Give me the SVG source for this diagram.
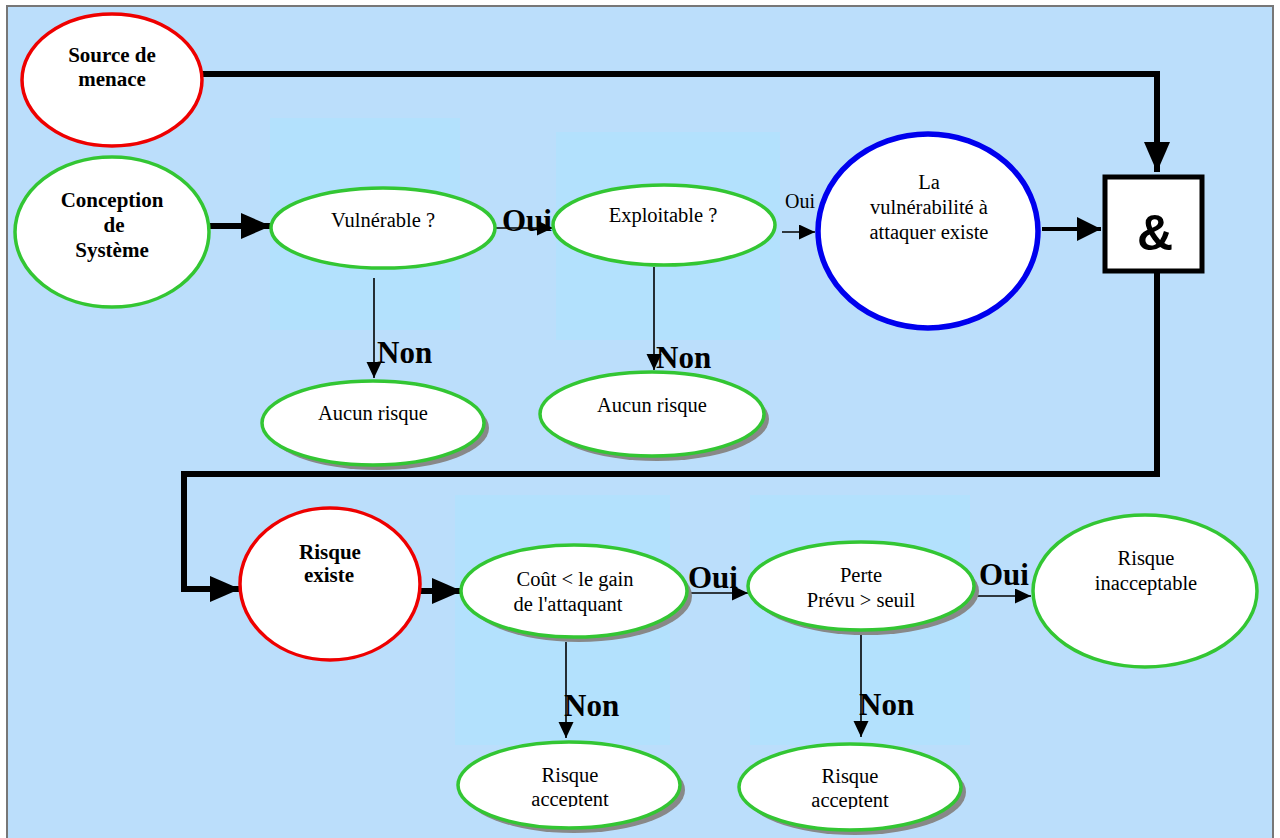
<svg xmlns="http://www.w3.org/2000/svg" width="1280" height="838" viewBox="0 0 1280 838">
<style>
.bg{fill:#bbdefb;stroke:#777;stroke-width:2}
.patch{fill:#b3e1fd}
.node{fill:#fff;stroke-width:3.5}
.g{stroke:#33c633}
.r{stroke:#ee0000}
.b{stroke:#0000ee;stroke-width:5.5}
.sh{fill:#888}
.t{font-family:"Liberation Serif","Times New Roman",serif;font-size:20.5px;fill:#000;text-anchor:middle}
.tb{font-family:"Liberation Serif","Times New Roman",serif;font-size:21px;font-weight:bold;fill:#000;text-anchor:middle}
.lbl{font-family:"Liberation Serif","Times New Roman",serif;font-size:31px;font-weight:bold;fill:#000}
.lbls{font-family:"Liberation Serif","Times New Roman",serif;font-size:20px;fill:#000}
.thick{fill:none;stroke:#000;stroke-width:6}
.thin{fill:none;stroke:#000;stroke-width:1.6}
</style>
<defs>
<marker id="big" markerUnits="userSpaceOnUse" markerWidth="32" markerHeight="28" refX="30" refY="13" orient="auto"><path d="M0,0 L30,13 L0,26 z" fill="#000"/></marker>
<marker id="med" markerUnits="userSpaceOnUse" markerWidth="26" markerHeight="26" refX="24" refY="12" orient="auto"><path d="M0,0 L24,12 L0,24 z" fill="#000"/></marker>
<marker id="sm" markerUnits="userSpaceOnUse" markerWidth="18" markerHeight="18" refX="16" refY="7.5" orient="auto"><path d="M0,0 L16,7.5 L0,15 z" fill="#000"/></marker>
<clipPath id="clip1"><rect x="440" y="740" width="260" height="67"/></clipPath>
<clipPath id="clip2"><rect x="720" y="740" width="260" height="69"/></clipPath>
</defs>
<rect class="bg" x="7" y="6" width="1266" height="840"/>
<g id="patches">
<rect class="patch" x="270" y="118" width="190" height="212"/>
<rect class="patch" x="556" y="132" width="224" height="208"/>
<rect class="patch" x="455" y="495" width="215" height="250"/>
<rect class="patch" x="750" y="495" width="220" height="250"/>
</g>
<g id="connectors">
<path class="thick" d="M202,74 H1157 V172" marker-end="url(#big)"/>
<path class="thick" d="M210,226 H271" marker-end="url(#big)"/>
<path class="thin" d="M495,228 H553" marker-end="url(#sm)"/>
<path class="thin" d="M782,232 H815" marker-end="url(#sm)"/>
<path class="thick" style="stroke-width:4" d="M1042,229 H1101" marker-end="url(#med)"/>
<path class="thick" d="M1157,273 V474 H184 V589 H240" marker-end="url(#big)"/>
<path class="thick" d="M420,591 H462" marker-end="url(#big)"/>
<path class="thin" d="M689,593 H748" marker-end="url(#sm)"/>
<path class="thin" d="M977,596 H1031" marker-end="url(#sm)"/>
<path class="thin" d="M374,278 V378" marker-end="url(#sm)"/>
<path class="thin" d="M654,267 V370" marker-end="url(#sm)"/>
<path class="thin" d="M566,642 V738" marker-end="url(#sm)"/>
<path class="thin" d="M861,633 V737" marker-end="url(#sm)"/>
<text class="lbl" x="502" y="231">Oui</text>
<text class="lbls" x="785" y="208">Oui</text>
<text class="lbl" x="377" y="363">Non</text>
<text class="lbl" x="656" y="368">Non</text>
<text class="lbl" x="688" y="588">Oui</text>
<text class="lbl" x="979" y="585">Oui</text>
<text class="lbl" x="564" y="716">Non</text>
<text class="lbl" x="859" y="715">Non</text>
</g>
<g id="source">
<ellipse class="node r" cx="112" cy="80" rx="90" ry="66"/>
<text class="tb" x="112" y="62">Source de</text>
<text class="tb" x="112" y="86">menace</text>
</g>
<g id="conception">
<ellipse class="node g" cx="112" cy="232" rx="97" ry="75"/>
<text class="tb" x="112" y="207">Conception</text>
<text class="tb" x="114" y="232">de</text>
<text class="tb" x="112" y="257">Système</text>
</g>
<g id="vulnerable">
<ellipse class="node g" cx="383" cy="228" rx="112" ry="40"/>
<text class="t" x="383" y="227">Vulnérable ?</text>
</g>
<g id="exploitable">
<ellipse class="node g" cx="664" cy="225" rx="111" ry="40"/>
<text class="t" x="663" y="222">Exploitable ?</text>
</g>
<g id="vuln-existe">
<ellipse class="node b" cx="928" cy="231" rx="110" ry="97"/>
<text class="t" x="929" y="189">La</text>
<text class="t" x="929" y="214">vulnérabilité à</text>
<text class="t" x="929" y="239">attaquer existe</text>
</g>
<g id="et">
<rect x="1105" y="177" width="97" height="94" fill="#fff" stroke="#000" stroke-width="5"/>
<text x="1155" y="250" text-anchor="middle" style="font-family:'Liberation Sans',Arial,sans-serif;font-size:50px;font-weight:bold">&amp;</text>
</g>
<g id="aucun1">
<ellipse class="sh" cx="378" cy="428" rx="111" ry="42"/>
<ellipse class="node g" cx="373" cy="423" rx="111" ry="42"/>
<text class="t" x="373" y="420">Aucun risque</text>
</g>
<g id="aucun2">
<ellipse class="sh" cx="657" cy="419" rx="112" ry="42"/>
<ellipse class="node g" cx="652" cy="414" rx="112" ry="42"/>
<text class="t" x="652" y="412">Aucun risque</text>
</g>
<g id="risque-existe">
<ellipse class="node r" cx="330" cy="584" rx="90" ry="76"/>
<text class="tb" x="330" y="559">Risque</text>
<text class="tb" x="329" y="582">existe</text>
</g>
<g id="cout">
<ellipse class="sh" cx="579" cy="596" rx="113" ry="46"/>
<ellipse class="node g" cx="574" cy="591" rx="113" ry="46"/>
<text class="t" x="575" y="586">Coût &lt; le gain</text>
<text class="t" x="568" y="611">de l'attaquant</text>
</g>
<g id="perte">
<ellipse class="sh" cx="866" cy="591" rx="113" ry="44"/>
<ellipse class="node g" cx="861" cy="586" rx="113" ry="44"/>
<text class="t" x="861" y="582">Perte</text>
<text class="t" x="861" y="607">Prévu &gt; seuil</text>
</g>
<g id="inacceptable">
<ellipse class="node g" cx="1145" cy="591" rx="112" ry="76"/>
<text class="t" x="1146" y="565">Risque</text>
<text class="t" x="1146" y="590">inacceptable</text>
</g>
<g id="accepte1">
<ellipse class="sh" cx="574" cy="790" rx="111" ry="43"/>
<ellipse class="node g" cx="569" cy="785" rx="111" ry="43"/>
<g clip-path="url(#clip1)">
<text class="t" x="570" y="782">Risque</text>
<text class="t" x="570" y="806">acceptent</text>
</g>
</g>
<g id="accepte2">
<ellipse class="sh" cx="855" cy="792" rx="111" ry="43"/>
<ellipse class="node g" cx="850" cy="787" rx="111" ry="43"/>
<g clip-path="url(#clip2)">
<text class="t" x="850" y="783">Risque</text>
<text class="t" x="850" y="807">acceptent</text>
</g>
</g>
</svg>
